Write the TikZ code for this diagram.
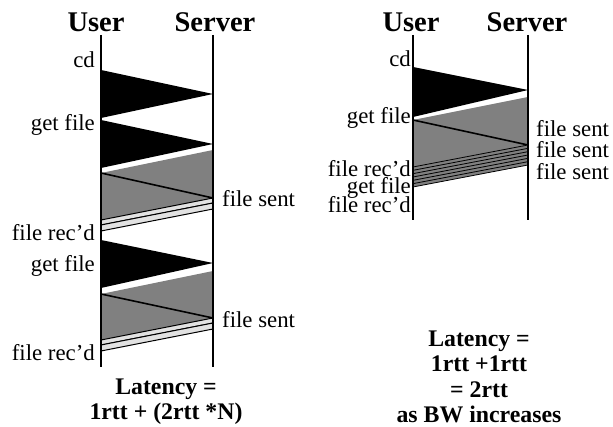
\documentclass[tikz,border=0pt]{standalone}
\usepackage{fontspec}
\setmainfont{Liberation Serif}
\begin{document}
\begin{tikzpicture}[x=1pt,y=-1pt,
  lbl/.style={font=\fontsize{22.8}{24}\selectfont, inner sep=0pt},
  hdr/.style={font=\fontsize{28.5}{30}\selectfont\bfseries, inner sep=0pt, anchor=base},
  lat/.style={font=\fontsize{23.8}{26}\selectfont\bfseries, inner sep=0pt, anchor=base},
  timeline/.style={line width=2.5pt},
  req/.style={fill=black},
  dat/.style={fill=datgray},
  ack/.style={fill=ackgray, draw=black, line width=1pt},
  edge/.style={draw=black, line width=1.6pt},
  thin/.style={draw=black, line width=0.8pt}
]
\definecolor{datgray}{HTML}{808080}
\definecolor{ackgray}{HTML}{E2E2E2}
\useasboundingbox (0,0) rectangle (613,427);

% ---------------- left diagram ----------------
\coordinate (u1t) at (101,35); \coordinate (u1b) at (101,367);
\coordinate (s1t) at (213,35); \coordinate (s1b) at (213,367);

% first exchange
\fill[req] (101,70) -- (213,94) -- (101,118) -- cycle;
\fill[req] (101,120) -- (213,144) -- (101,168) -- cycle;
\fill[dat] (101,173) -- (213,150) -- (213,198) -- (101,220) -- cycle;
\draw[edge] (101,173) -- (213,198);
\draw[ack] (101,220) -- (213,198) -- (213,203) -- (101,225) -- cycle;
\draw[ack] (101,225) -- (213,203) -- (213,209) -- (101,231) -- cycle;

% second exchange
\fill[req] (101,240) -- (213,263) -- (101,288) -- cycle;
\fill[dat] (101,294) -- (213,271) -- (213,318) -- (101,340) -- cycle;
\draw[edge] (101,294) -- (213,318);
\draw[ack] (101,340) -- (213,318) -- (213,323) -- (101,345) -- cycle;
\draw[ack] (101,345) -- (213,323) -- (213,329) -- (101,351) -- cycle;

\draw[timeline] (u1t) -- (u1b);
\draw[timeline] (s1t) -- (s1b);

\node[hdr] (user1) at (96,32) {User};
\node[hdr] (server1) at (215,32) {Server};

\node[lbl, anchor=base east] (cd1) at (95,68) {cd};
\node[lbl, anchor=base east] (gf1) at (95,131) {get file};
\node[lbl, anchor=base west] (fs1) at (222,207) {file sent};
\node[lbl, anchor=base east] (fr1) at (95,241) {file rec'd};
\node[lbl, anchor=base east] (gf2) at (95,272) {get file};
\node[lbl, anchor=base west] (fs2) at (222,328) {file sent};
\node[lbl, anchor=base east] (fr2) at (95,361) {file rec'd};

\node[lat] (lat1a) at (166,395) {Latency =};
\node[lat] (lat1b) at (166,419) {1rtt + (2rtt *N)};

% ---------------- right diagram ----------------
\coordinate (u2t) at (413,35); \coordinate (u2b) at (413,220);
\coordinate (s2t) at (528,35); \coordinate (s2b) at (528,220);

\fill[req] (413,67) -- (528,90) -- (413,117) -- cycle;
\fill[dat] (413,120) -- (528,97) -- (528,145) -- (413,167) -- cycle;
\draw[edge] (413,120) -- (528,145);
\fill[dat] (413,167) -- (528,145) -- (528,165) -- (413,187) -- cycle;
\foreach \k in {0,...,6}{
  \draw[thin] (413,{167+\k*20/6}) -- (528,{145+\k*20/6});
}

\draw[timeline] (u2t) -- (u2b);
\draw[timeline] (s2t) -- (s2b);

\node[hdr] (user2) at (411,32) {User};
\node[hdr] (server2) at (527,32) {Server};

\node[lbl, anchor=base east] (cd2) at (411,67) {cd};
\node[lbl, anchor=base east] (gf3) at (411,124) {get file};
\node[lbl, anchor=base east] (fr3) at (411,177) {file rec'd};
\node[lbl, anchor=base east] (gf4) at (411,194) {get file};
\node[lbl, anchor=base east] (fr4) at (411,213) {file rec'd};
\node[lbl, anchor=base west] (fs3) at (536,137) {file sent};
\node[lbl, anchor=base west] (fs4) at (536,158) {file sent};
\node[lbl, anchor=base west] (fs5) at (536,180) {file sent};

\node[lat] (lat2a) at (479,347) {Latency =};
\node[lat] (lat2b) at (479,372) {1rtt +1rtt};
\node[lat] (lat2c) at (479,398) {= 2rtt};
\node[lat] (lat2d) at (479,422) {as BW increases};
\end{tikzpicture}
\end{document}
